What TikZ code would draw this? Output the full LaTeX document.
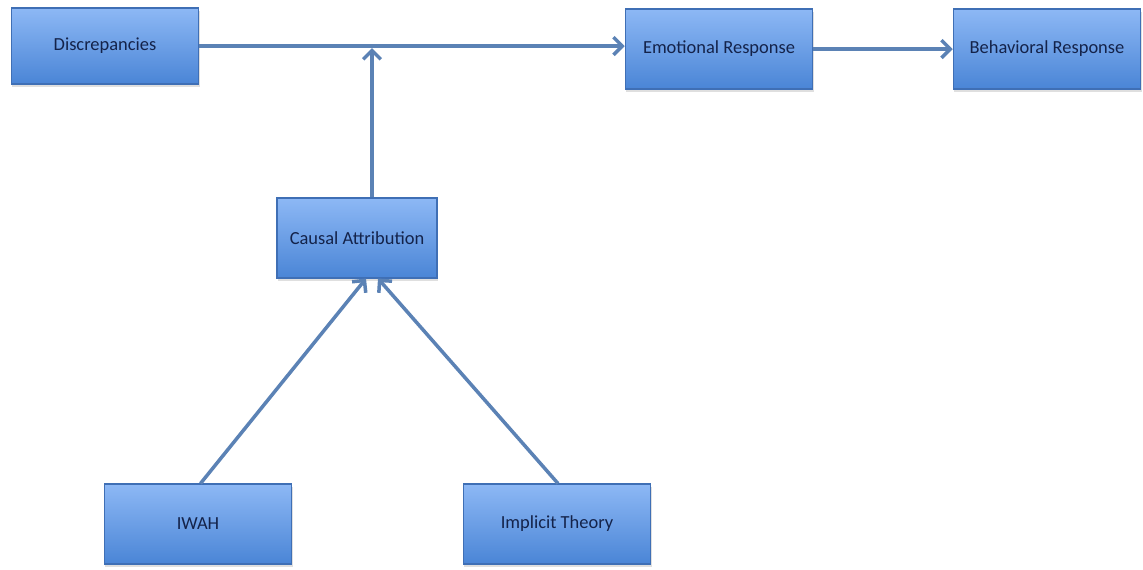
\documentclass[tikz,border=0pt]{standalone}
\usepackage{fontspec}
\setmainfont{Carlito}
\usetikzlibrary{arrows.meta,shadows}

\definecolor{boxtop}{HTML}{8DB8F5}
\definecolor{boxbot}{HTML}{4A85D6}
\definecolor{boxline}{HTML}{3F6FB5}
\definecolor{linkcol}{HTML}{5B82B5}
\definecolor{textcol}{HTML}{14234A}

\begin{document}
\begin{tikzpicture}[x=0.02cm, y=-0.02cm,
  factor/.style={rectangle, draw=boxline, line width=0.6pt,
    top color=boxtop, bottom color=boxbot, text=textcol,
    font=\fontsize{10.5}{12}\selectfont, inner sep=0pt,
    minimum width=3.75cm, minimum height=1.6cm,
    drop shadow={shadow xshift=0.5pt, shadow yshift=-1.5pt, opacity=0.25}},
  link/.style={draw=linkcol, line width=2pt, -{Straight Barb[length=5pt,width=10pt]}}]

  \useasboundingbox (0,0) rectangle (1143,569);

  % top row: discrepancies lead to responses

  \node [factor, minimum height=1.52cm] (dis) at (105,46) {Discrepancies};
  \node [factor] (emo) at (719,49) {Emotional Response};
  \node [factor] (beh) at (1047,49) {Behavioral Response};

  % attribution and its antecedents

  \node [factor, minimum width=3.2cm] (cau) at (357,238) {Causal Attribution};
  \node [factor] (iwah) at (198,524) {IWAH};
  \node [factor] (imp) at (557,524) {Implicit Theory};

  \coordinate (join) at (372,48);

  % connections

  \draw [link] (dis.east) -- (emo.west |- dis.east);
  \draw [link] (emo) -- (beh);
  \draw [link] (join |- cau.north) -- (join);
  \draw [link] ([xshift=0.05cm]iwah.north) -- ([xshift=0.18cm]cau.south);
  \draw [link] ([xshift=0.02cm]imp.north) -- ([xshift=0.42cm]cau.south);
\end{tikzpicture}
\end{document}
